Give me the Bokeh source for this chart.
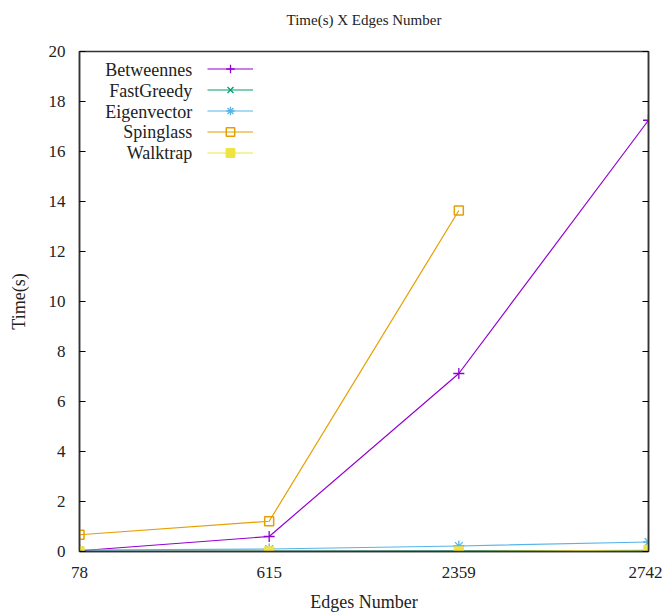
from bokeh.plotting import figure
from bokeh.models import (Range1d, FixedTicker, LinearAxis, Legend, LegendItem,
                          ColumnDataSource, Label)
from bokeh.embed import file_html
from bokeh.resources import INLINE

# ---- data ----
edges = ["78", "615", "2359", "2742"]
betweennes = [0.03, 0.6, 7.12, 17.25]
fastgreedy = [0.01, 0.01, 0.02, 0.03]
eigenvector = [0.06, 0.1, 0.22, 0.38]
spinglass = [0.67, 1.21, 13.64]
walktrap = [0.0, 0.0, 0.0, 0.06]
y_ticks = [0, 2, 4, 6, 8, 10, 12, 14, 16, 18, 20]
names = ["Betweennes", "FastGreedy", "Eigenvector", "Spinglass", "Walktrap"]
colors = ["#9400d3", "#009e73", "#56b4e9", "#e69f00", "#f0e442"]
title_text = "Time(s) X Edges Number"

FONT = "Liberation Serif"
TXT = "#222222"
x_idx = list(range(len(edges)))

p = figure(width=662, height=613, output_backend="svg", toolbar_location=None,
           x_range=Range1d(0, len(edges) - 1), y_range=Range1d(0, 20),
           min_border_left=79, min_border_right=14, min_border_top=51,
           min_border_bottom=62)
p.frame_width = 569
p.frame_height = 500
p.grid.visible = False
p.outline_line_color = "#333333"
p.outline_line_width = 1.5

xa = p.below[0]
xa.ticker = FixedTicker(ticks=x_idx)
xa.major_label_overrides = {i: e for i, e in zip(x_idx, edges)}
xa.major_tick_in = 0
xa.major_tick_out = 0
xa.minor_tick_line_color = None
xa.axis_line_color = "#333333"
xa.axis_line_width = 1.5
xa.major_label_text_font = FONT
xa.major_label_text_font_size = "17px"
xa.major_label_text_color = TXT
xa.major_label_standoff = 15
xa.axis_label = "Edges Number"
xa.axis_label_text_font = FONT
xa.axis_label_text_font_size = "18px"
xa.axis_label_text_font_style = "normal"
xa.axis_label_text_color = TXT
xa.axis_label_standoff = 11

ya = p.left[0]
ya.ticker = FixedTicker(ticks=y_ticks)
ya.major_tick_in = 6
ya.major_tick_out = 0
ya.minor_tick_line_color = None
ya.axis_line_color = "#333333"
ya.axis_line_width = 1.5
ya.major_label_text_font = FONT
ya.major_label_text_font_size = "17px"
ya.major_label_text_color = TXT
ya.major_label_standoff = 14
ya.axis_label = "Time(s)"
ya.axis_label_text_font = FONT
ya.axis_label_text_font_size = "18px"
ya.axis_label_text_font_style = "normal"
ya.axis_label_text_color = TXT
ya.axis_label_standoff = 17

# title drawn as the label of a bare axis above the frame
ta = LinearAxis(ticker=FixedTicker(ticks=[]), axis_line_color=None,
                major_tick_in=0, major_tick_out=0, minor_tick_line_color=None,
                major_label_standoff=0, major_label_text_font_size="0px",
                axis_label=title_text, axis_label_text_font=FONT,
                axis_label_text_font_size="15px", axis_label_text_font_style="normal",
                axis_label_text_color=TXT, axis_label_standoff=24)
p.add_layout(ta, "above")

ra = LinearAxis(ticker=FixedTicker(ticks=y_ticks), major_tick_in=6, major_tick_out=0,
                minor_tick_line_color=None, major_label_text_font_size="0px",
                axis_line_color="#333333", axis_line_width=1.5)
p.add_layout(ra, "right")

all_vals = [betweennes, fastgreedy, eigenvector, spinglass, walktrap]
markers = ["cross", "x", "asterisk", "square", "square"]
fills = [None, None, None, None, "filled"]

items = []
for name, vals, color, marker, fill in zip(names, all_vals, colors, markers, fills):
    src = ColumnDataSource(dict(x=x_idx[:len(vals)], y=vals))
    r1 = p.line("x", "y", source=src, line_color=color, line_width=1.2)
    if marker == "square":
        r2 = p.scatter("x", "y", source=src, marker="square", size=9,
                       line_color=color, line_width=1.5,
                       fill_color=color if fill else None)
    else:
        r2 = p.scatter("x", "y", source=src, marker=marker, size=11,
                       line_color=color, line_width=1.3)
    items.append(LegendItem(label=" ", renderers=[r1, r2]))

# gnuplot-style key: right-aligned text, then the sample
legend = Legend(items=items, location=(128, 388), border_line_color=None,
                background_fill_alpha=0, label_text_font_size="1px",
                glyph_width=46, glyph_height=21, label_height=21, spacing=0,
                padding=0, margin=0, label_standoff=0, label_width=1)
p.add_layout(legend, "center")

key_x = 0.594
key_top = 19.27
key_step = 0.836
for i, name in enumerate(names):
    p.add_layout(Label(x=key_x, y=key_top - i * key_step, text=name,
                       text_align="right", text_baseline="middle",
                       text_font=FONT, text_font_size="18px", text_color=TXT))

open("out.html", "w").write(file_html(p, INLINE))
